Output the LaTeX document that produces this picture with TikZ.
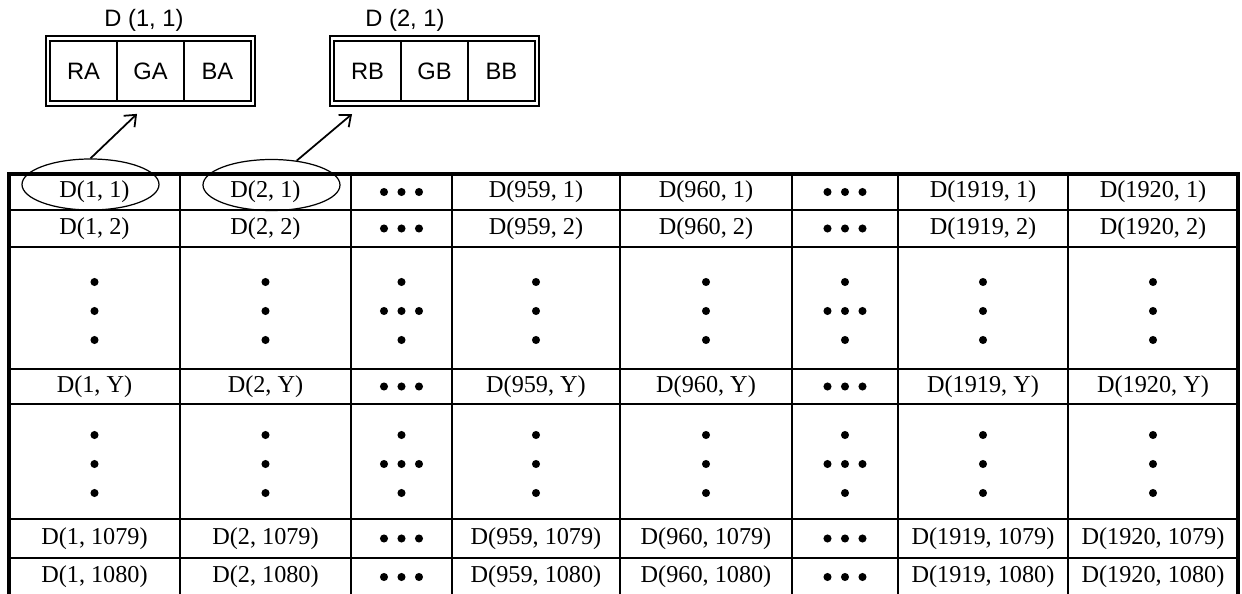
\documentclass[tikz,border=0pt]{standalone}
\usepackage{fontspec}
\setmainfont{Liberation Serif}
\newfontfamily\boxfont{Liberation Sans}
\usetikzlibrary{arrows.meta,positioning,shapes.geometric,fit}

\begin{document}
\begin{tikzpicture}[
    x=0.02cm, y=-0.02cm,
    cell/.style={inner sep=0pt,font=\fontsize{13.8}{16}\selectfont},
    chan/.style={draw,line width=0.8pt,outer sep=0pt,inner sep=0pt,minimum width=1.34cm,minimum height=1.2cm,font=\boxfont\fontsize{13.5}{16}\selectfont},
    frame/.style={draw,line width=1.4pt,inner xsep=0.08cm,inner ysep=0.1cm},
    lbl/.style={inner sep=0pt,font=\boxfont\fontsize{13.5}{16}\selectfont},
    ring/.style={ellipse,draw,line width=0.7pt,minimum width=2.74cm,minimum height=1.02cm,inner sep=0pt},
    tabline/.style={line width=1.4pt},
    >={Straight Barb[length=5.5pt,width=9pt]}
]
\useasboundingbox (0,0) rectangle (1242,594);

% pixel data words
\node[chan] (ra) at (83.5,71) {RA};
\node[chan,right=0pt of ra] (ga) {GA};
\node[chan,right=0pt of ga] (ba) {BA};
\node[chan] (rb) at (367.5,71) {RB};
\node[chan,right=0pt of rb] (gb) {GB};
\node[chan,right=0pt of gb] (bb) {BB};
\node[frame,fit=(ra)(ba)] (fa) {};
\node[frame,fit=(rb)(bb)] (fb) {};
\node[lbl] (la) at (144,20) {D (1, 1)};
\node[lbl] (lb) at (405,20) {D (2, 1)};

% frame table
\draw[tabline,line width=2pt] (9,174) rectangle (1238,596);
\foreach \x in {180,351,452,620,792,898,1068}
    \draw[tabline] (\x,174) -- (\x,596);
\foreach \y in {210,247,369,404,519,558}
    \draw[tabline] (9,\y) -- (1238,\y);

\foreach \x/\c in {94.5/1,265.5/2,536/959,706/960,983/1919,1153/1920}
    \foreach \y/\r in {192/1,228.5/2,386.5/Y,538.5/1079,577/1080}
        \node[cell] (d-\c-\r) at (\x,\y) {D(\c, \r)};

% ellipsis dots
\foreach \x in {401.5,845}
    \foreach \y in {192,228.5,386.5,538.5,577,311,464}
        \foreach \d in {-17.5,0,17.5}
            \fill ({\x+\d},\y) circle[radius=2.3pt];
\foreach \x in {94.5,265.5,401.5,536,706,845,983,1153}
    \foreach \y in {311,464}
        \foreach \d in {-29,29}
            \fill (\x,{\y+\d}) circle[radius=2.3pt];
\foreach \x in {94.5,265.5,536,706,983,1153}
    \foreach \y in {311,464}
        \fill (\x,\y) circle[radius=2.3pt];

% picked pixels
\node[ring] (e11) at (90.5,184.5) {};
\node[ring] (e21) at (271.5,185) {};
\draw[->,line width=1pt,shorten >=10.6pt] (e11.north) -- (ga.south);
\draw[->,line width=1pt,shorten >=11.5pt] (e21.44) -- (rb.south);
\end{tikzpicture}
\end{document}
